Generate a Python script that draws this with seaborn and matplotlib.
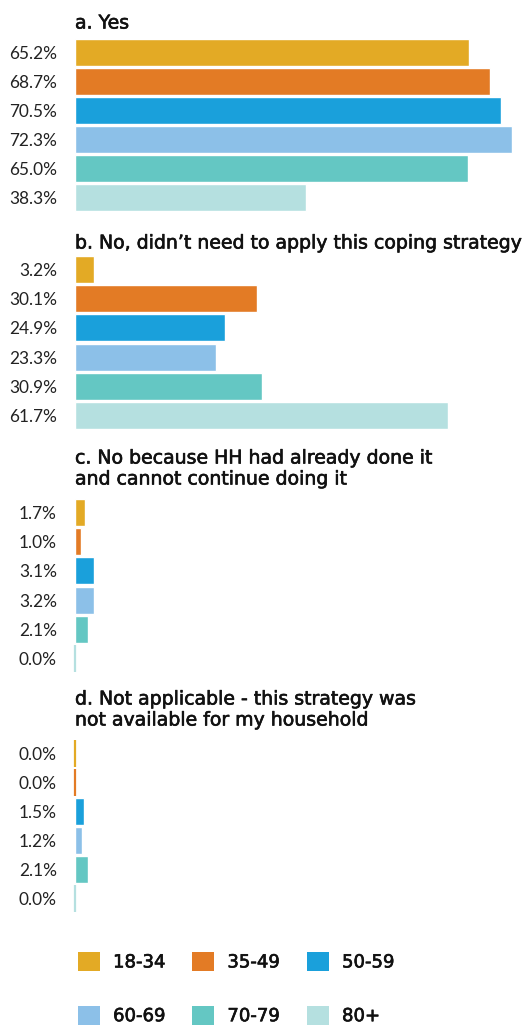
import matplotlib
matplotlib.use("Agg")
import matplotlib.pyplot as plt
import matplotlib.patheffects as pe
from matplotlib.patches import Patch
import seaborn as sns
import pandas as pd

sns.set_theme(style="white")
plt.rcParams["font.family"] = ["Lato", "DejaVu Sans"]

groups = ["18-34", "35-49", "50-59", "60-69", "70-79", "80+"]
colors = ["#E3AA25", "#E37B25", "#1AA0DB", "#8CC0E8", "#64C7C3", "#B5E0E0"]

titles = [
    "a. Yes",
    "b. No, didn\u2019t need to apply this coping strategy",
    "c. No because HH had already done it\nand cannot continue doing it",
    "d. Not applicable - this strategy was\nnot available for my household",
]
yes_vals = [65.2, 68.7, 70.5, 72.3, 65.0, 38.3]
no_need_vals = [3.2, 30.1, 24.9, 23.3, 30.9, 61.7]
already_done_vals = [1.7, 1.0, 3.1, 3.2, 2.1, 0.0]
not_available_vals = [0.0, 0.0, 1.5, 1.2, 2.1, 0.0]
panel_values = [yes_vals, no_need_vals, already_done_vals, not_available_vals]

W, H = 528, 1025
fig = plt.figure(figsize=(W / 100, H / 100), dpi=100)

ink = "#111111"
# slightly heavier strokes for headings and legend text
thicken = [pe.withStroke(linewidth=0.45, foreground=ink)]
heading_font = {"family": "DejaVu Sans", "size": 13.6, "weight": "normal"}

# panel layout in pixels: (axes top, axes bottom, title line centres)
layout = [
    (38, 212, [23]),
    (255, 430, [243]),
    (498, 673, [458, 479]),
    (739, 913, [699, 720]),
]
palette = dict(zip(groups, colors))

for (top, bottom, title_ys), title, vals in zip(layout, titles, panel_values):
    ax = fig.add_axes([75 / W, 1 - bottom / H, (W - 75) / W, (bottom - top) / H])
    df = pd.DataFrame({"group": groups, "value": vals})
    sns.barplot(data=df, x="value", y="group", hue="group", palette=palette,
                order=groups, hue_order=groups, orient="h", width=27 / 29,
                legend=False, ax=ax, saturation=1)
    for p in ax.patches:
        if p.get_width() == 0:
            # keep empty categories visible as a thin sliver
            p.set_edgecolor(p.get_facecolor())
            p.set_linewidth(1.6)
            p.set_clip_on(False)
    ax.set_xlim(0, (W - 75) / 6.04)
    ax.set_ylim(5.5, -0.5)
    ax.set_yticks(range(len(groups)))
    ax.set_yticklabels([f"{v:.1f}%" for v in vals], fontsize=12.4, color="#222222")
    ax.tick_params(axis="y", length=0, pad=13)
    ax.set_xticks([])
    ax.set_xlabel("")
    ax.set_ylabel("")
    sns.despine(ax=ax, left=True, bottom=True)
    for line, y in zip(title.split("\n"), title_ys):
        fig.text(75 / W, 1 - y / H, line, ha="left", va="center",
                 color=ink, fontdict=heading_font, path_effects=thicken)

handles = [Patch(facecolor=c, edgecolor="none") for c in colors]
order = [0, 3, 1, 4, 2, 5]
leg = fig.legend([handles[i] for i in order], [groups[i] for i in order],
                 ncol=3, loc="upper left", bbox_to_anchor=(78 / W, 1 - 952 / H),
                 frameon=False, borderpad=0, borderaxespad=0,
                 handlelength=1.22, handleheight=1.22,
                 handletextpad=0.72, columnspacing=1.5, labelspacing=1.9,
                 prop={"family": "DejaVu Sans", "size": 13, "weight": "normal"})
for t in leg.get_texts():
    t.set_color(ink)
    t.set_path_effects(thicken)

fig.savefig("out.png", dpi=100)
